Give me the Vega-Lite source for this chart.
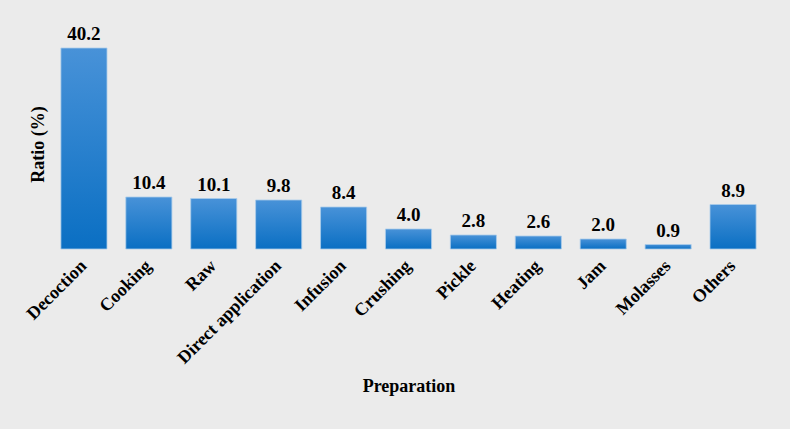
{
  "$schema": "https://vega.github.io/schema/vega-lite/v6.json",
  "autosize": "none",
  "width": 714,
  "height": 210,
  "padding": {"left": 51.5, "top": 39, "right": 24.5, "bottom": 180},
  "background": "#ebebeb",
  "config": {
    "view": {"stroke": null},
    "font": "Liberation Serif"
  },
  "data": {
    "values": [
      {"Preparation": "Decoction", "Ratio": 40.2},
      {"Preparation": "Cooking", "Ratio": 10.4},
      {"Preparation": "Raw", "Ratio": 10.1},
      {"Preparation": "Direct application", "Ratio": 9.8},
      {"Preparation": "Infusion", "Ratio": 8.4},
      {"Preparation": "Crushing", "Ratio": 4.0},
      {"Preparation": "Pickle", "Ratio": 2.8},
      {"Preparation": "Heating", "Ratio": 2.6},
      {"Preparation": "Jam", "Ratio": 2.0},
      {"Preparation": "Molasses", "Ratio": 0.9},
      {"Preparation": "Others", "Ratio": 8.9}
    ]
  },
  "encoding": {
    "x": {
      "field": "Preparation",
      "type": "nominal",
      "sort": null,
      "scale": {"paddingInner": 0.29, "paddingOuter": 0.145},
      "axis": {
        "title": "Preparation",
        "titleFont": "Liberation Serif",
        "titleFontSize": 18,
        "titleFontWeight": "bold",
        "titleColor": "#000000",
        "titlePadding": 10,
        "labelFont": "Liberation Serif",
        "labelFontSize": 18,
        "labelFontWeight": "bold",
        "labelColor": "#000000",
        "labelAngle": -45,
        "labelAlign": "right",
        "labelBaseline": "middle",
        "labelPadding": 14,
        "domain": false,
        "ticks": false
      }
    },
    "y": {
      "field": "Ratio",
      "type": "quantitative",
      "scale": {"domain": [0, 42], "nice": false},
      "axis": {
        "title": "Ratio (%)",
        "titleFont": "Liberation Serif",
        "titleFontSize": 18,
        "titleFontWeight": "bold",
        "titleColor": "#000000",
        "titlePadding": 4,
        "labels": false,
        "ticks": false,
        "domain": false,
        "grid": false
      }
    }
  },
  "layer": [
    {
      "mark": {
        "type": "bar",
        "stroke": "#a9cbea",
        "strokeWidth": 0.8,
        "fill": {
          "x1": 0, "y1": 0, "x2": 0, "y2": 1,
          "gradient": "linear",
          "stops": [
            {"offset": 0, "color": "#4892d8"},
            {"offset": 1, "color": "#0a6fc3"}
          ]
        }
      }
    },
    {
      "mark": {
        "type": "text",
        "baseline": "bottom",
        "dy": -4,
        "font": "Liberation Serif",
        "fontSize": 19,
        "fontWeight": "bold",
        "color": "#000000"
      },
      "encoding": {
        "text": {"field": "Ratio", "type": "quantitative", "format": ".1f"}
      }
    }
  ]
}
